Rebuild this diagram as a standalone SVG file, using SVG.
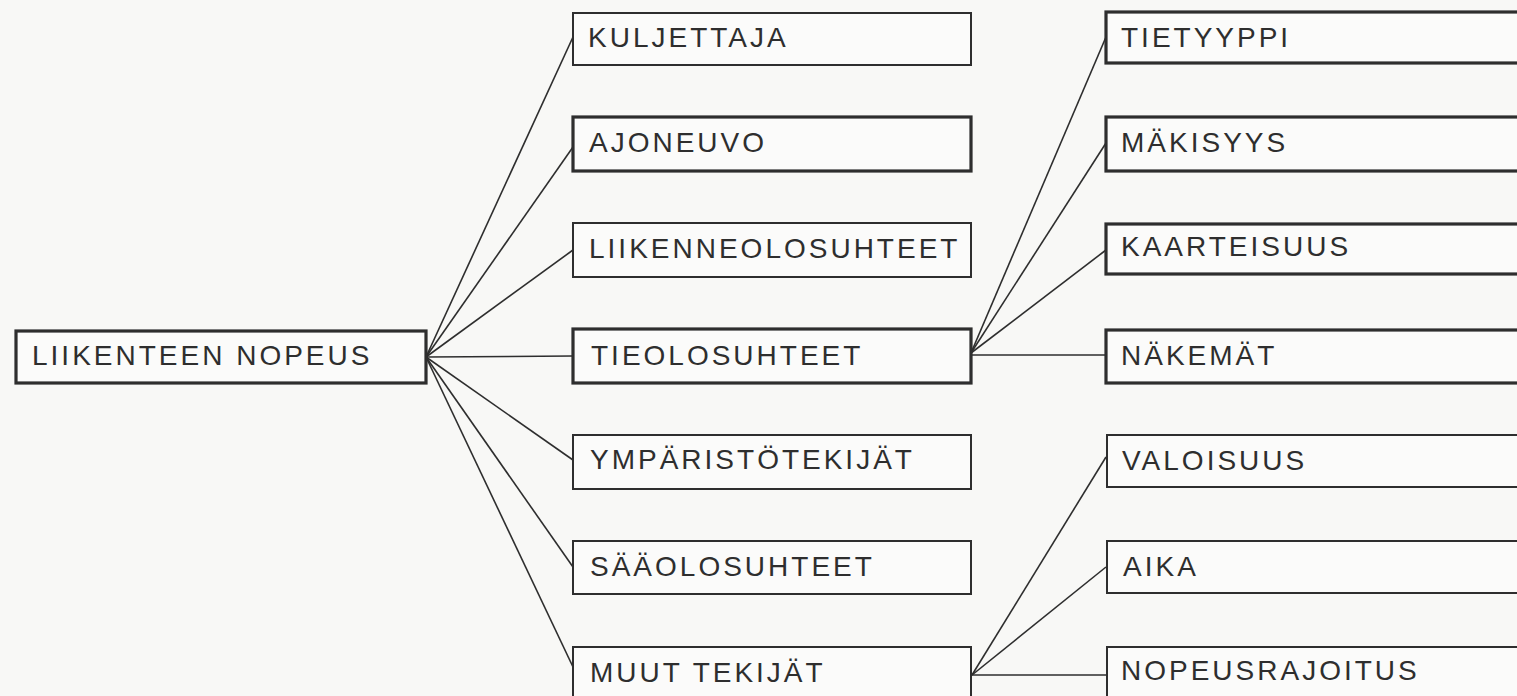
<svg xmlns="http://www.w3.org/2000/svg" width="1517" height="696" viewBox="0 0 1517 696">
<style>
.bg{fill:#f8f8f6}
.box{fill:#fbfbfa;stroke:#2e2e2e;stroke-width:2}
.box.thick{stroke-width:3.2}
.lbl{font-family:"Liberation Sans",Arial,sans-serif;font-size:28px;letter-spacing:3px;fill:#2e2e2e}
.conn line{stroke:#2e2e2e;stroke-width:1.6}
</style>
<rect class="bg" x="0" y="0" width="1517" height="696"/>
<g id="connectors" class="conn">
<line x1="426" y1="357" x2="573" y2="37"/>
<line x1="426" y1="357" x2="573" y2="147"/>
<line x1="426" y1="357" x2="573" y2="250"/>
<line x1="426" y1="357" x2="573" y2="356"/>
<line x1="426" y1="357" x2="573" y2="460"/>
<line x1="426" y1="357" x2="573" y2="567"/>
<line x1="426" y1="357" x2="573" y2="667"/>
<line x1="971" y1="353" x2="1106" y2="37"/>
<line x1="971" y1="353" x2="1106" y2="143"/>
<line x1="971" y1="353" x2="1106" y2="250"/>
<line x1="971" y1="355" x2="1106" y2="355"/>
<line x1="972" y1="675" x2="1106" y2="457"/>
<line x1="972" y1="675" x2="1106" y2="567"/>
<line x1="972" y1="675" x2="1106" y2="675"/>
</g>
<g id="n-root"><rect class="box thick" x="16" y="331" width="410" height="52"/><text class="lbl" x="32" y="365">LIIKENTEEN NOPEUS</text></g>
<g id="n-kuljettaja"><rect class="box" x="573" y="13" width="398" height="52"/><text class="lbl" x="588" y="47">KULJETTAJA</text></g>
<g id="n-ajoneuvo"><rect class="box thick" x="573" y="117" width="398" height="54"/><text class="lbl" x="589" y="152">AJONEUVO</text></g>
<g id="n-liikenneolosuhteet"><rect class="box" x="573" y="223" width="398" height="54"/><text class="lbl" x="589" y="258">LIIKENNEOLOSUHTEET</text></g>
<g id="n-tieolosuhteet"><rect class="box thick" x="573" y="329" width="398" height="54"/><text class="lbl" x="591" y="365">TIEOLOSUHTEET</text></g>
<g id="n-ymparisto"><rect class="box" x="573" y="435" width="398" height="54"/><text class="lbl" x="590" y="469">YMPÄRISTÖTEKIJÄT</text></g>
<g id="n-saaolosuhteet"><rect class="box" x="573" y="541" width="398" height="53"/><text class="lbl" x="590" y="576">SÄÄOLOSUHTEET</text></g>
<g id="n-muut"><rect class="box" x="573" y="647" width="398" height="60"/><text class="lbl" x="590" y="682">MUUT TEKIJÄT</text></g>
<g id="n-tietyyppi"><rect class="box thick" x="1106" y="12" width="430" height="51"/><text class="lbl" x="1121" y="47">TIETYYPPI</text></g>
<g id="n-makisyys"><rect class="box thick" x="1106" y="117" width="430" height="54"/><text class="lbl" x="1121" y="152">MÄKISYYS</text></g>
<g id="n-kaarteisuus"><rect class="box thick" x="1106" y="224" width="430" height="50"/><text class="lbl" x="1121" y="256">KAARTEISUUS</text></g>
<g id="n-nakemat"><rect class="box thick" x="1106" y="330" width="430" height="53"/><text class="lbl" x="1121" y="365">NÄKEMÄT</text></g>
<g id="n-valoisuus"><rect class="box" x="1107" y="435" width="430" height="52"/><text class="lbl" x="1122" y="470">VALOISUUS</text></g>
<g id="n-aika"><rect class="box" x="1107" y="541" width="430" height="52"/><text class="lbl" x="1123" y="576">AIKA</text></g>
<g id="n-nopeusrajoitus"><rect class="box" x="1107" y="647" width="430" height="60"/><text class="lbl" x="1121" y="680">NOPEUSRAJOITUS</text></g>
</svg>
